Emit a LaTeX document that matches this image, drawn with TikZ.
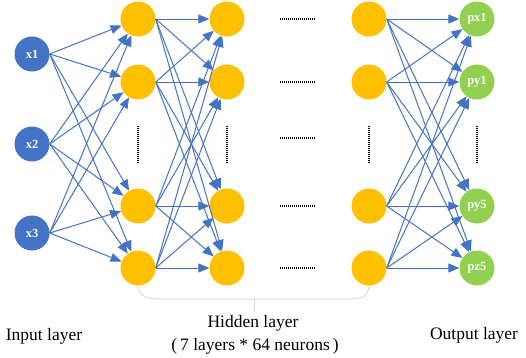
\documentclass[tikz,border=0pt]{standalone}
\usepackage{fontspec}
\setmainfont{Liberation Serif}
\usetikzlibrary{arrows.meta}
\definecolor{inblue}{HTML}{4472C4}
\definecolor{hidorange}{HTML}{FFC000}
\definecolor{outgreen}{HTML}{92D050}
\definecolor{edgeblue}{HTML}{4472C4}
\tikzset{
  neuron/.style={circle, minimum size=35pt, inner sep=0pt, text=white, font=\fontsize{12.5}{14}\selectfont\bfseries},
  inneuron/.style={neuron, fill=inblue},
  hidneuron/.style={neuron, fill=hidorange},
  outneuron/.style={neuron, fill=outgreen},
  conn/.style={draw=edgeblue, line width=1pt, -{Triangle[length=11pt,width=9pt]}},
  dotsline/.style={draw=black, line width=1.1pt, dash pattern=on 1pt off 1pt},
  lbl/.style={font=\fontsize{17.5}{20}\selectfont, inner sep=0pt},
  bracket/.style={draw=black!15, line width=1pt}
}
\begin{document}
\begin{tikzpicture}[x=1pt,y=-1pt]
\useasboundingbox (0,0) rectangle (526,357);
% input layer
\node[inneuron] (x1) at (32,54) {x1};
\node[inneuron] (x2) at (32,144) {x2};
\node[inneuron] (x3) at (32,233) {x3};
% hidden layers
\foreach \c/\xx in {a/138,b/227,c/369}{
  \node[hidneuron] (\c1) at (\xx,19) {};
  \node[hidneuron] (\c2) at (\xx,82) {};
  \node[hidneuron] (\c3) at (\xx,206) {};
  \node[hidneuron] (\c4) at (\xx,268) {};
}
% output layer
\node[outneuron] (o1) at (477,19) {px1};
\node[outneuron] (o2) at (477,82) {py1};
\node[outneuron] (o3) at (477,206) {py5};
\node[outneuron] (o4) at (477,268) {pz5};
% connections
\foreach \i in {1,2,3}{
  \foreach \j in {1,2,3,4}{
    \draw[conn] (x\i.east) -- (a\j);
  }
}
\foreach \i in {1,2,3,4}{
  \foreach \j in {1,2,3,4}{
    \draw[conn] (a\i.east) -- (b\j);
    \draw[conn] (c\i.east) -- (o\j);
  }
}
% dotted placeholders
\foreach \yy [count=\k] in {19,82,138,206,268}{
  \coordinate (hl\k) at (280,\yy);
  \coordinate (hr\k) at (316,\yy);
  \draw[dotsline] (hl\k) -- (hr\k);
}
\foreach \xx [count=\k] in {138,227,369,477}{
  \coordinate (vt\k) at (\xx,126);
  \coordinate (vb\k) at (\xx,163);
  \draw[dotsline] (vt\k) -- (vb\k);
}
% bracket
\coordinate (bm) at (254,299);
\coordinate (bt) at (254,312);
\draw[bracket] (a4.south) .. controls (140,297) and (146,299) .. (162,299) -- (350,299) .. controls (364,299) and (368,295) .. (c4.south);
\draw[bracket] (bm) -- (bt);
% labels
\node[lbl] (inl) at (44,336) {Input layer};
\node[lbl] (hid1) at (253,323) {Hidden layer};
\node[lbl] (hid2) at (255,346) {(\,7 layers * 64 neurons\,)};
\node[lbl] (outl) at (474,335) {Output layer};
\end{tikzpicture}
\end{document}
